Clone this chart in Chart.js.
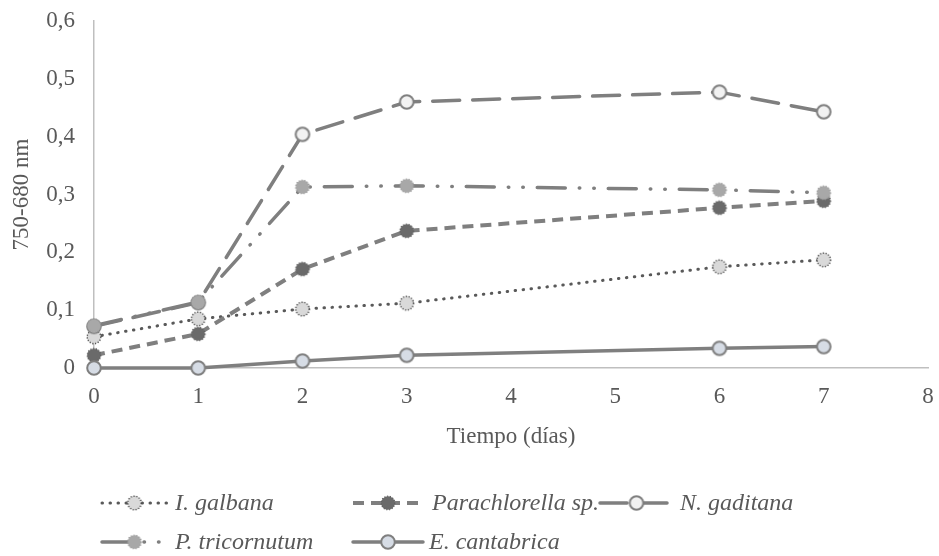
<!DOCTYPE html>
<html>
<head>
<meta charset="utf-8">
<script src="https://cdn.jsdelivr.net/npm/chart.js@4.4.1/dist/chart.umd.min.js"></script>
<style>
  html, body { margin: 0; padding: 0; background: #ffffff; }
  #wrap { width: 939px; height: 556px; }
</style>
</head>
<body>
<div id="wrap"><canvas id="c" width="939" height="556"></canvas></div>
<script>
// Sampling days and absorbance readings (750-680 nm) per species
const days = [0, 1, 2, 3, 6, 7];
const iGalbana      = [0.054, 0.085, 0.102, 0.112, 0.175, 0.187];
const parachlorella = [0.022, 0.059, 0.171, 0.237, 0.277, 0.289];
const nGaditana     = [0.072, 0.113, 0.404, 0.460, 0.477, 0.443];
const pTricornutum  = [0.073, 0.114, 0.313, 0.315, 0.308, 0.303];
const eCantabrica   = [0.000, 0.000, 0.012, 0.022, 0.034, 0.037];

const seriesNames = ['I. galbana', 'Parachlorella sp.', 'N. gaditana', 'P. tricornutum', 'E. cantabrica'];
const xTicks = [0, 1, 2, 3, 4, 5, 6, 7, 8];
const yTicks = [0, 0.1, 0.2, 0.3, 0.4, 0.5, 0.6];

const FONT = "'Liberation Serif', 'Times New Roman', serif";
const TEXT = '#595959';
const LINE = '#7f7f7f';

// Marker images, shared by the plot and the legend
function makeMarker(fill, stroke, strokeW, dotted) {
  const cv = document.createElement('canvas');
  cv.width = 18; cv.height = 18;
  const g = cv.getContext('2d');
  g.beginPath();
  g.arc(9, 9, 6.8, 0, Math.PI * 2);
  g.fillStyle = fill;
  g.fill();
  if (strokeW > 0) {
    g.lineWidth = strokeW;
    g.strokeStyle = stroke;
    if (dotted) { g.setLineDash([1.2, 1.6]); }
    g.stroke();
  }
  return cv;
}

const markers = [
  makeMarker('#d9d9d9', '#404040', 1.4, true),
  makeMarker('#6a6a6a', '#5f5f5f', 1.2, true),
  makeMarker('#f2f2f2', '#7f7f7f', 2, false),
  makeMarker('#a8a8a8', '#9a9a9a', 1.2, true),
  makeMarker('#d6dce5', '#7f7f7f', 2, false)
];

const lineStyles = [
  { color: '#595959', width: 3,   dash: [0.5, 7.5],                   cap: 'round' },
  { color: LINE,      width: 4,   dash: [11, 7],                      cap: 'butt'  },
  { color: LINE,      width: 3.5, dash: [27, 13],                     cap: 'round' },
  { color: LINE,      width: 3.5, dash: [28, 14, 0.5, 14, 0.5, 14],   cap: 'round' },
  { color: LINE,      width: 3.5, dash: [],                           cap: 'round' }
];

const seriesValues = [iGalbana, parachlorella, nGaditana, pTricornutum, eCantabrica];

const datasets = seriesValues.map((vals, i) => ({
  label: seriesNames[i],
  data: days.map((d, k) => ({ x: d, y: vals[k] })),
  borderColor: lineStyles[i].color,
  borderWidth: lineStyles[i].width,
  borderDash: lineStyles[i].dash,
  borderCapStyle: lineStyles[i].cap,
  borderJoinStyle: 'round',
  pointStyle: markers[i],
  pointRadius: 7,
  pointHoverRadius: 7,
  tension: 0,
  fill: false,
  clip: false,
  order: seriesValues.length - i
}));

// Legend drawn under the axis title: two rows of line samples with markers
const legendItems = [
  { idx: 0, x0: 102, x1: 167, tx: 175, y: 503 },
  { idx: 1, x0: 353, x1: 423, tx: 432, y: 503 },
  { idx: 2, x0: 600, x1: 673, tx: 680, y: 503 },
  { idx: 3, x0: 102, x1: 167, tx: 175, y: 542 },
  { idx: 4, x0: 353, x1: 423, tx: 429, y: 542 }
];

const legendPlugin = {
  id: 'sampleLegend',
  afterDraw(chart) {
    const ctx = chart.ctx;
    legendItems.forEach(it => {
      const st = lineStyles[it.idx];
      ctx.save();
      ctx.strokeStyle = st.color;
      ctx.lineWidth = st.width;
      ctx.lineCap = st.cap;
      ctx.setLineDash(st.dash);
      ctx.beginPath();
      ctx.moveTo(it.x0, it.y);
      ctx.lineTo(it.x1, it.y);
      ctx.stroke();
      ctx.setLineDash([]);
      const m = markers[it.idx];
      const mx = (it.x0 + it.x1) / 2;
      ctx.drawImage(m, mx - m.width / 2, it.y - m.height / 2);
      ctx.fillStyle = TEXT;
      ctx.font = 'italic 24px ' + FONT;
      ctx.textBaseline = 'middle';
      ctx.textAlign = 'left';
      ctx.fillText(seriesNames[it.idx], it.tx, it.y + 1);
      ctx.restore();
    });
  }
};

new Chart(document.getElementById('c'), {
  type: 'line',
  data: { datasets },
  plugins: [legendPlugin],
  options: {
    responsive: false,
    animation: false,
    devicePixelRatio: 1,
    layout: { padding: { top: 21, right: 7, bottom: 98, left: 0 } },
    plugins: { legend: { display: false }, tooltip: { enabled: false } },
    scales: {
      x: {
        type: 'linear',
        min: 0, max: 8,
        afterBuildTicks: s => { s.ticks = xTicks.map(v => ({ value: v })); },
        afterFit: s => { s.height = 90; s.paddingLeft = 0; s.paddingRight = 0; },
        grid: { display: false, drawTicks: false },
        border: { display: true, color: '#bfbfbf', width: 1.5 },
        ticks: {
          padding: 15,
          color: TEXT,
          font: { family: FONT, size: 23 },
          maxRotation: 0,
          callback: v => String(v)
        },
        title: {
          display: true,
          text: 'Tiempo (días)',
          color: TEXT,
          font: { family: FONT, size: 23, lineHeight: 1.2 },
          padding: { top: 0, bottom: 7 }
        }
      },
      y: {
        type: 'linear',
        min: 0, max: 0.6,
        afterBuildTicks: s => { s.ticks = yTicks.map(v => ({ value: v })); },
        afterFit: s => { s.width = 94; s.paddingTop = 0; s.paddingBottom = 0; },
        grid: { display: false, drawTicks: false },
        border: { display: true, color: '#bfbfbf', width: 1.5 },
        ticks: {
          padding: 19,
          color: TEXT,
          font: { family: FONT, size: 23 },
          callback: v => (v === 0 ? '0' : v.toFixed(1).replace('.', ','))
        },
        title: {
          display: true,
          text: '750-680 nm',
          color: TEXT,
          font: { family: FONT, size: 23, lineHeight: 1.2 },
          padding: { top: 8, bottom: 0 }
        }
      }
    }
  }
});
</script>
</body>
</html>
